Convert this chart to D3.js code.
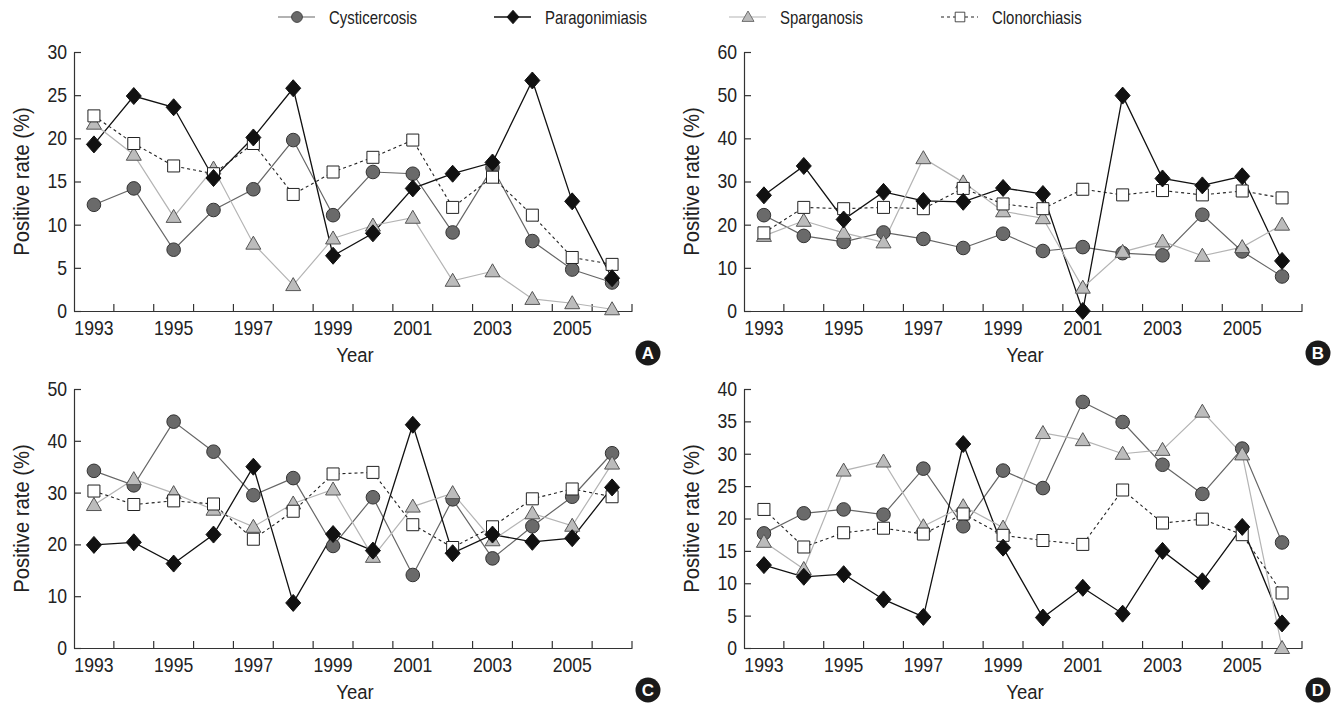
<!DOCTYPE html>
<html>
<head>
<meta charset="utf-8">
<title>Positive rate by year</title>
<script src="https://cdn.jsdelivr.net/npm/d3@7"></script>
<style>
body, html {
  margin: 0;
  background: #fff;
}
svg text {
  font-family: 'Liberation Sans', Arial, sans-serif;
  fill: #222;
}
.axis path, .axis line {
  stroke: #333;
  stroke-width: 1.2px;
}
.badge text {
  font-weight: bold;
  fill: #fff;
}
</style>
</head>
<body>
<script>
// data
var years = [1993, 1994, 1995, 1996, 1997, 1998, 1999, 2000, 2001, 2002, 2003, 2004, 2005, 2006];
var yearLabels = [1993, 1995, 1997, 1999, 2001, 2003, 2005];
var seriesNames = ["Cysticercosis", "Paragonimiasis", "Sparganosis", "Clonorchiasis"];

// A
var cystA = [12.3, 14.2, 7.1, 11.7, 14.1, 19.8, 11.1, 16.1, 15.9, 9.1, 16.6, 8.1, 4.8, 3.3];
var paraA = [19.3, 24.9, 23.6, 15.4, 20.1, 25.8, 6.4, 9.0, 14.2, 15.9, 17.2, 26.7, 12.7, 3.8];
var sparA = [21.7, 18.1, 10.9, 16.5, 7.8, 3.0, 8.4, 9.9, 10.8, 3.5, 4.6, 1.4, 0.9, 0.2];
var clonA = [22.6, 19.4, 16.8, 15.9, 19.4, 13.5, 16.1, 17.8, 19.8, 12.0, 15.5, 11.1, 6.2, 5.4];
// B
var cystB = [22.2, 17.4, 16.0, 18.2, 16.7, 14.6, 17.9, 13.9, 14.8, 13.4, 12.9, 22.3, 13.8, 8.0];
var paraB = [26.8, 33.6, 21.2, 27.6, 25.5, 25.3, 28.5, 27.1, 0, 49.9, 30.7, 29.1, 31.2, 11.6];
var sparB = [17.4, 20.9, 18.1, 15.9, 35.4, 29.8, 23.1, 21.5, 5.4, 13.7, 16.1, 12.8, 14.8, 20.0];
var clonB = [18.1, 24.0, 23.7, 24.0, 23.7, 28.4, 24.8, 23.7, 28.2, 26.9, 27.9, 26.9, 27.8, 26.2];
// C
var cystC = [34.2, 31.4, 43.7, 37.9, 29.5, 32.8, 19.7, 29.1, 14.1, 28.7, 17.3, 23.5, 29.2, 37.6];
var paraC = [19.9, 20.4, 16.3, 21.9, 35.0, 8.7, 22.0, 18.8, 43.1, 18.3, 21.9, 20.5, 21.2, 31.0];
var sparC = [27.6, 32.6, 29.9, 26.7, 23.4, 27.9, 30.6, 17.6, 27.3, 29.9, 20.8, 26.0, 23.6, 35.6];
var clonC = [30.3, 27.7, 28.4, 27.8, 21.0, 26.4, 33.6, 33.9, 23.8, 19.4, 23.4, 28.8, 30.7, 29.2];
// D
var cystD = [17.7, 20.8, 21.4, 20.6, 27.7, 18.8, 27.4, 24.7, 38.0, 34.9, 28.3, 23.8, 30.8, 16.3];
var paraD = [12.8, 11.0, 11.4, 7.5, 4.8, 31.5, 15.5, 4.7, 9.3, 5.3, 15.0, 10.3, 18.7, 3.8];
var sparD = [16.4, 12.2, 27.4, 28.8, 18.8, 21.9, 18.6, 33.2, 32.1, 30.0, 30.6, 36.5, 29.9, 0];
var clonD = [21.4, 15.6, 17.8, 18.5, 17.6, 20.7, 17.4, 16.6, 16.0, 24.4, 19.3, 19.9, 17.5, 8.5];

var yTicksA = [0, 5, 10, 15, 20, 25, 30];
var yTicksB = [0, 10, 20, 30, 40, 50, 60];
var yTicksC = [0, 10, 20, 30, 40, 50];
var yTicksD = [0, 5, 10, 15, 20, 25, 30, 35, 40];

var panels = [
  {label: "A", left: 74,  bottom: 311, ticks: yTicksA, data: [cystA, paraA, sparA, clonA]},
  {label: "B", left: 744, bottom: 311, ticks: yTicksB, data: [cystB, paraB, sparB, clonB]},
  {label: "C", left: 74,  bottom: 648, ticks: yTicksC, data: [cystC, paraC, sparC, clonC]},
  {label: "D", left: 744, bottom: 648, ticks: yTicksD, data: [cystD, paraD, sparD, clonD]}
];

var plotW = 558, plotH = 259;

// line + marker styles per series
var styles = [
  {line: "#666", width: 1.2, dash: null, marker: "circle", fill: "#6a6a6a", stroke: "#333"},
  {line: "#111", width: 1.3, dash: null, marker: "diamond", fill: "#111", stroke: "#111"},
  {line: "#b4b4b4", width: 1.2, dash: null, marker: "triangle", fill: "#bcbcbc", stroke: "#555"},
  {line: "#222", width: 1.1, dash: "3,3", marker: "square", fill: "#fff", stroke: "#222"}
];

// the original uses a condensed face; squeeze the text horizontally
function narrow(sel, k) {
  sel.each(function() {
    var t = d3.select(this);
    var x = +t.attr("x") || 0;
    t.attr("x", x / k).attr("transform", "scale(" + k + ",1)");
  });
}

function markerPath(type) {
  var p = d3.path();
  if (type == "diamond") {
    p.moveTo(0, -8.5); p.lineTo(7.5, 0); p.lineTo(0, 8.5); p.lineTo(-7.5, 0); p.closePath();
  } else if (type == "triangle") {
    p.moveTo(0, -7.5); p.lineTo(7.5, 5.5); p.lineTo(-7.5, 5.5); p.closePath();
  } else if (type == "square") {
    p.rect(-6, -6, 12, 12);
  } else {
    p.arc(0, 0, 6.8, 0, 2 * Math.PI);
  }
  return p.toString();
}

function drawMarker(sel, st, small) {
  sel.append("path")
    .attr("d", markerPath(st.marker))
    .attr("transform", small ? "scale(0.8)" : null)
    .attr("fill", st.fill)
    .attr("stroke", st.stroke)
    .attr("stroke-width", 1);
}

var svg = d3.select("body").append("svg")
  .attr("width", 1340)
  .attr("height", 707);

// legend
var legendX = [297, 513, 748, 960];
var legend = svg.append("g").attr("class", "legend");
seriesNames.forEach(function(name, i) {
  var st = styles[i];
  var g = legend.append("g").attr("transform", "translate(" + legendX[i] + ",17)");
  g.append("line")
    .attr("x1", -19).attr("x2", 18)
    .attr("stroke", st.line)
    .attr("stroke-width", st.width)
    .attr("stroke-dasharray", st.dash);
  drawMarker(g, st, true);
  g.append("text")
    .attr("x", 32).attr("y", 6.5)
    .attr("font-size", 18)
    .text(name)
    .call(narrow, 0.83);
});

panels.forEach(function(pan) {
  var x = d3.scaleBand().domain(years).range([pan.left, pan.left + plotW]);
  var y = d3.scaleLinear()
    .domain([0, pan.ticks[pan.ticks.length - 1]])
    .range([pan.bottom, pan.bottom - plotH]);

  var g = svg.append("g");

  // y axis, ticks pointing inward
  g.append("g")
    .attr("class", "axis")
    .attr("transform", "translate(" + pan.left + ",0)")
    .call(d3.axisLeft(y).tickValues(pan.ticks).tickSizeInner(-7).tickSizeOuter(0).tickPadding(7))
    .call(function(a) {
      a.selectAll("text").attr("font-size", 20).attr("font-family", null).call(narrow, 0.88);
    });

  // x axis: labels at odd years, ticks at band edges
  var xa = g.append("g")
    .attr("class", "axis")
    .attr("transform", "translate(0," + pan.bottom + ")")
    .call(d3.axisBottom(x).tickValues(yearLabels).tickSize(0).tickPadding(10))
    .call(function(a) {
      a.selectAll("text").attr("font-size", 20).attr("font-family", null).call(narrow, 0.88);
    });

  xa.selectAll(".edge")
    .data(years)
    .enter().append("line")
    .attr("class", "edge")
    .attr("x1", function(d) { return x(d) + x.bandwidth(); })
    .attr("x2", function(d) { return x(d) + x.bandwidth(); })
    .attr("y1", 0).attr("y2", -7);

  // axis titles
  g.append("text")
    .attr("x", pan.left + 281)
    .attr("y", pan.bottom + 51)
    .attr("text-anchor", "middle")
    .attr("font-size", 21)
    .text("Year")
    .call(narrow, 0.88);

  g.append("text")
    .attr("transform", "translate(" + (pan.left - 45) + "," + (pan.bottom - plotH / 2) + ") rotate(-90) scale(0.9,1)")
    .attr("text-anchor", "middle")
    .attr("font-size", 22.5)
    .text("Positive rate (%)");

  // series lines
  var line = d3.line()
    .x(function(d, i) { return x(years[i]) + x.bandwidth() / 2; })
    .y(function(d) { return y(d); });

  pan.data.forEach(function(vals, si) {
    var st = styles[si];
    g.append("path")
      .datum(vals)
      .attr("fill", "none")
      .attr("stroke", st.line)
      .attr("stroke-width", st.width)
      .attr("stroke-dasharray", st.dash)
      .attr("d", line);
  });

  // markers (drawn after all lines)
  [0, 2, 3, 1].forEach(function(si) {
    var st = styles[si];
    g.append("g")
      .selectAll("g")
      .data(pan.data[si])
      .enter().append("g")
      .attr("transform", function(d, i) {
        return "translate(" + (x(years[i]) + x.bandwidth() / 2) + "," + y(d) + ")";
      })
      .each(function() { drawMarker(d3.select(this), st, false); });
  });

  // panel letter
  var badge = g.append("g")
    .attr("class", "badge")
    .attr("transform", "translate(" + (pan.left + 574) + "," + (pan.bottom + 42) + ")");
  badge.append("circle").attr("r", 12.5).attr("fill", "#1a1a1a");
  badge.append("text")
    .attr("text-anchor", "middle")
    .attr("y", 6)
    .attr("font-size", 17)
    .text(pan.label);
});
</script>
</body>
</html>
